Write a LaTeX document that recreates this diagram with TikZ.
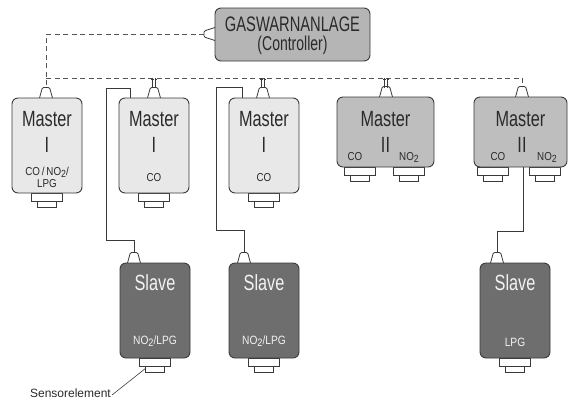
\documentclass[tikz,border=0pt]{standalone}
\usepackage{fontspec}
\usepackage{graphicx}
\setmainfont{Liberation Sans}
\newfontfamily\fbig[FakeStretch=0.74]{Liberation Sans}
\newfontfamily\fctl[FakeStretch=0.70]{Liberation Sans}
\newfontfamily\fsm[FakeStretch=0.85]{Liberation Sans}
\newfontfamily\fnorm{Liberation Sans}
\newcommand\sbtwo{\raisebox{-0.35ex}{\scalebox{0.9}{2}}}
\definecolor{ctlgray}{HTML}{B5B5B5}
\definecolor{mIgray}{HTML}{E8E8E8}
\definecolor{mIIgray}{HTML}{BEBEBE}
\definecolor{slgray}{HTML}{6E6E6E}
\definecolor{edge}{HTML}{3A3A3A}
\definecolor{buscol}{HTML}{555555}
\definecolor{sltext}{HTML}{F2F2F2}
\definecolor{txtcol}{HTML}{2A2A2A}
\tikzset{
  unitbox/.style={draw=edge, line width=0.9pt, rounded corners=6pt, inner sep=0pt},
  masterI/.style={unitbox, fill=mIgray, minimum width=70pt, minimum height=95pt},
  masterII/.style={unitbox, fill=mIIgray, minimum height=70pt},
  slavebox/.style={unitbox, fill=slgray, minimum width=70pt, minimum height=95pt},
  lbl/.style={anchor=base, inner sep=0pt, text=txtcol},
  bigtxt/.style={lbl, font=\fbig\fontsize{22}{22}\selectfont},
  smalltxt/.style={lbl, font=\fsm\fontsize{11.5}{11.5}\selectfont},
  bus/.style={draw=buscol, line width=0.9pt, dash pattern=on 5pt off 3.5pt},
  wire/.style={draw=edge, line width=0.8pt},
  bellpic/.pic={\draw[fill=white, draw=edge, line width=0.8pt, rounded corners=1.2pt] (-6.5,0) -- (-3.6,-10.5) -- (3.6,-10.5) -- (6.5,0);},
  plugpic/.pic={\draw[fill=white, draw=edge, line width=0.8pt] (-15.5,0) rectangle (15.5,8.5);
                \draw[fill=white, draw=edge, line width=0.8pt] (-9.5,8.5) rectangle (9.5,14.5);}
}
\begin{document}
\begin{tikzpicture}[x=1pt, y=-1pt]
\useasboundingbox (0,0) rectangle (569,400);

% ---------- bells (drawn first, boxes cover their base) ----------
\pic at (46,98) {bellpic};
\pic at (154,98) {bellpic};
\pic at (263,98) {bellpic};
\pic at (386,97) {bellpic};
\pic at (522,97) {bellpic};
\pic at (134,263) {bellpic};
\pic at (244,263) {bellpic};
\pic at (497,263) {bellpic};
% controller bell (pointing left)
\draw[fill=white, draw=edge, line width=0.8pt, rounded corners=1.2pt] (215,27.5) -- (204,31) -- (204,37) -- (215,40.5);

% ---------- plugs ----------
\pic at (47,193) {plugpic};
\pic at (154,193) {plugpic};
\pic at (264,193) {plugpic};
\pic at (360,167) {plugpic};
\pic at (409,167) {plugpic};
\pic at (493,167) {plugpic};
\pic at (545,167) {plugpic};
\pic at (155,358) {plugpic};
\pic at (264,358) {plugpic};
\pic at (515,358) {plugpic};

% ---------- boxes ----------
\node[unitbox, fill=ctlgray, minimum width=155pt, minimum height=53pt] (ctl) at (292.5,34.5) {};
\node[masterI] (m1) at (47,145.5) {};
\node[masterI] (m2) at (154,145.5) {};
\node[masterI] (m3) at (264,145.5) {};
\node[masterII, minimum width=97pt] (m4) at (385.5,132) {};
\node[masterII, minimum width=93pt] (m5) at (520.5,132) {};
\node[slavebox] (s1) at (155,310.5) {};
\node[slavebox] (s2) at (264,310.5) {};
\node[slavebox] (s3) at (515,310.5) {};

% ---------- named connection points ----------
\coordinate (cb) at (204,34);
\coordinate (b1) at (46,87.5);
\coordinate (b2) at (154,87.5);
\coordinate (b3) at (263,87.5);
\coordinate (b4) at (386,86.5);
\coordinate (b5) at (522,86.5);
\coordinate (sb1) at (134,252.5);
\coordinate (sb2) at (244,252.5);
\coordinate (sb3) at (497,252.5);
\coordinate (busL) at (46,78);
\coordinate (busR) at (522,78);

% ---------- dashed bus ----------
\draw[bus] (cb) -- (46,34) -- (b1);
\draw[bus] (busL) -- (busR) -- (b5);
\foreach \bx in {154,263,386}{
  \draw[edge, line width=0.6pt] (\bx-1.6,78) -- (\bx-1.6,87.5) (\bx+1.6,78) -- (\bx+1.6,87.5);
  \draw[edge, line width=0.6pt] (\bx-3,79.5) -- (\bx-0.5,79.5) (\bx+0.5,79.5) -- (\bx+3,79.5);
}

% ---------- slave wires ----------
\draw[wire] (130,98) -- (130,88) -- (106,88) -- (106,240) -- (134,240) -- (sb1);
\draw[wire] (242,98) -- (242,87) -- (216,87) -- (216,230) -- (244,230) -- (sb2);
\draw[wire] (m5.south) ++(2.5,0) coordinate (m5w) -- (523,231) -- (497,231) -- (sb3);

% ---------- texts ----------
\node[lbl, font=\fctl\fontsize{21}{21}\selectfont] (ct1) at (292.5,31) {GASWARNANLAGE};
\node[lbl, font=\fctl\fontsize{20}{20}\selectfont] (ct2) at (292.5,50) {(Controller)};

\foreach \mx/\nm in {47/a,154/b,264/c}{
  \node[bigtxt] (mt\nm) at (\mx,126) {Master};
  \node[bigtxt] (mi\nm) at (\mx,152) {I};
}
\node[lbl, font=\fsm\fontsize{11.5}{11.5}\selectfont] (m1g1) at (47,175) {CO\,/\,NO\sbtwo/};
\node[lbl, font=\fsm\fontsize{11.5}{11.5}\selectfont] (m1g2) at (47,187) {LPG};
\node[smalltxt] (m2g) at (154,181) {CO};
\node[smalltxt] (m3g) at (264,181) {CO};

\node[bigtxt] (mtd) at (385.5,126) {Master};
\node[bigtxt] (mid) at (385.5,152) {II};
\node[smalltxt] (m4co) at (355,160) {CO};
\node[smalltxt] (m4no) at (409,160) {NO\sbtwo};
\node[bigtxt] (mte) at (520.5,126) {Master};
\node[bigtxt] (mie) at (522,152) {II};
\node[smalltxt] (m5co) at (498,160) {CO};
\node[smalltxt] (m5no) at (547,160) {NO\sbtwo};

\foreach \sx/\nm in {155/a,264/b,515/c}{
  \node[bigtxt, text=sltext] (st\nm) at (\sx,290) {Slave};
}
\node[lbl, text=sltext, font=\fsm\fontsize{12}{12}\selectfont] (s1g) at (155,344) {NO\sbtwo/LPG};
\node[lbl, text=sltext, font=\fsm\fontsize{12}{12}\selectfont] (s2g) at (264,344) {NO\sbtwo/LPG};
\node[lbl, text=sltext, font=\fsm\fontsize{12}{12}\selectfont] (s3g) at (515,346) {LPG};

% ---------- Sensorelement label ----------
\node[lbl, anchor=base east, font=\fnorm\fontsize{12}{12}\selectfont] (sens) at (111,397.5) {Sensorelement};
\coordinate (sensend) at (146,368);
\draw[wire, line width=0.6pt] (112,395) -- (sensend);
\end{tikzpicture}
\end{document}
